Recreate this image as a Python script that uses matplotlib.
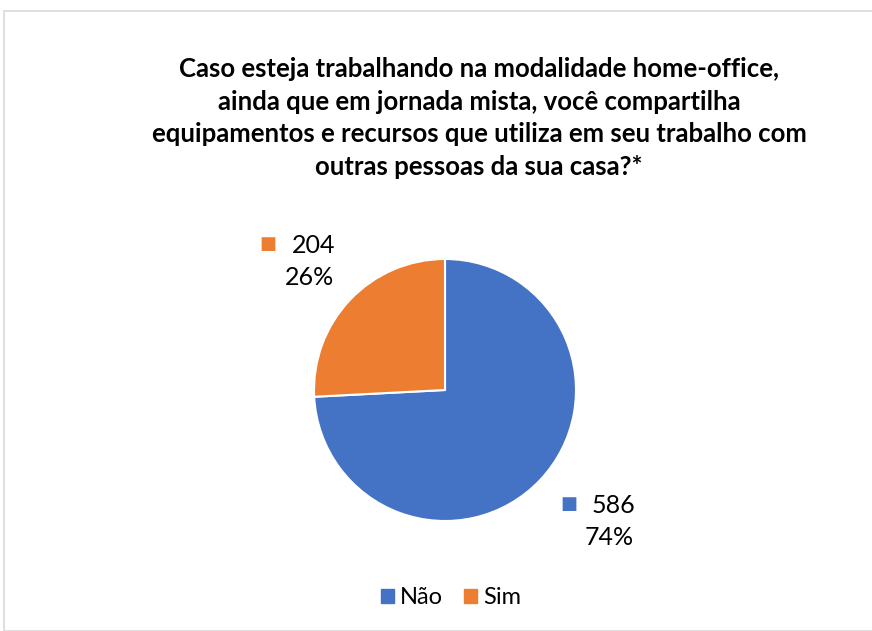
import numpy as np
import matplotlib.pyplot as plt
from matplotlib.patches import Rectangle

plt.rcParams['font.family'] = ['Lato', 'DejaVu Sans']

title = ("Caso esteja trabalhando na modalidade home-office,\n"
         "ainda que em jornada mista, você compartilha\n"
         "equipamentos e recursos que utiliza em seu trabalho com\n"
         "outras pessoas da sua casa?*")
labels = ["Não", "Sim"]
values = [586, 204]
colors = ["#4472C4", "#ED7D31"]

fig = plt.figure(figsize=(8.72, 6.31), dpi=100)
fig.patches.append(Rectangle((4 / 872, 0), 1, 1 - 11 / 631, transform=fig.transFigure,
                             fill=False, edgecolor="#D9D9D9", linewidth=1.2))

ax = fig.add_axes([(445 - 131) / 872, (631 - 390 - 131) / 631, 262 / 872, 262 / 631])
wedges, _ = ax.pie(values, colors=colors, startangle=90, counterclock=False,
                   wedgeprops=dict(edgecolor="white", linewidth=1.5))
ax.set_xlim(-1, 1)
ax.set_ylim(-1, 1)
ax.set_aspect("equal")

# data label boxes (square marker + value + percent), placed outside end like Excel
box_w, box_h = 0.54, 0.36
total = sum(values)
for w, v, c in zip(wedges, values, colors):
    ang = np.deg2rad((w.theta1 + w.theta2) / 2)
    cx, cy = 1.18 * np.cos(ang), 1.18 * np.sin(ang)
    left = cx + 0.04 if np.cos(ang) >= 0 else cx - box_w
    top = cy + box_h if np.sin(ang) >= 0 else cy
    pct = "{:.0f}%".format(100 * v / total)
    ax.text(left + 0.047, top - 0.06, "■", color=c, ha="center", va="center",
            fontsize=13, clip_on=False)
    ax.text(left + 0.39, top - 0.068, str(v), ha="center", va="center",
            fontsize=18, clip_on=False)
    ax.text(left + 0.36, top - 0.315, pct, ha="center", va="center",
            fontsize=18, clip_on=False)

fig.text(479 / 872, 1 - 118 / 631, title, ha="center", va="center", fontsize=18.5,
         fontweight="bold", linespacing=1.43)

handles = [Rectangle((0, 0), 1, 1, color=c) for c in colors]
fig.legend(handles, labels, loc="center", bbox_to_anchor=(451 / 872, 1 - 598 / 631),
           ncol=2, frameon=False, fontsize=17, handlelength=0.55, handleheight=0.55,
           handletextpad=0.25, columnspacing=0.9)

fig.savefig("out.png", dpi=100)
